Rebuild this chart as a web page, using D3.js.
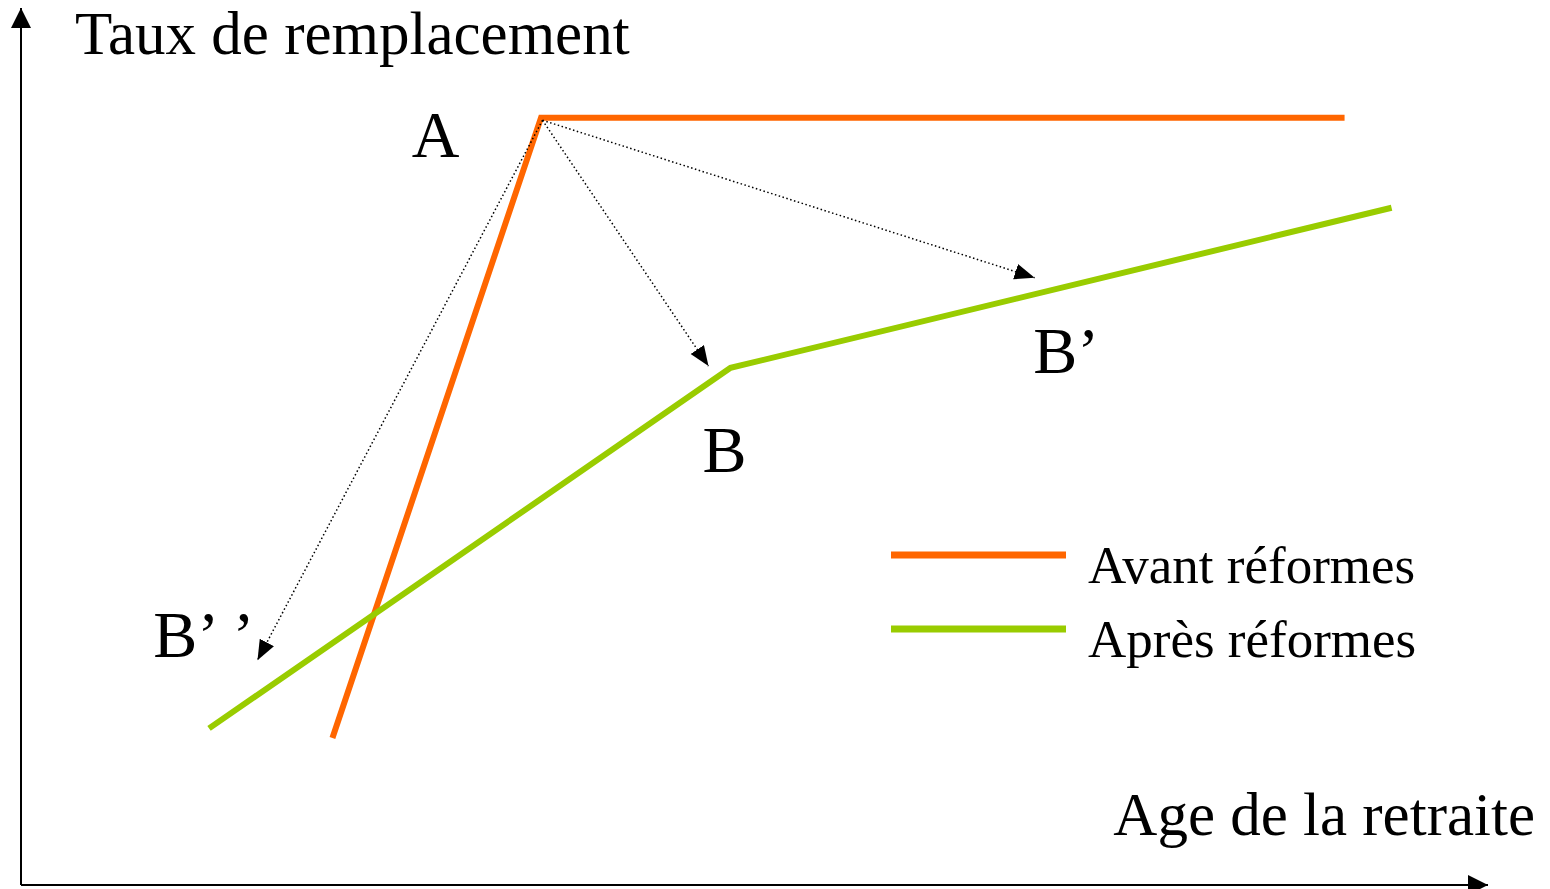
<!DOCTYPE html>
<html>
<head>
<meta charset="utf-8">
<script src="https://cdn.jsdelivr.net/npm/d3@7"></script>
<style>
  body { margin: 0; background: #fff; }
  text { font-family: "Liberation Serif", "Times New Roman", serif; fill: #000; }
</style>
</head>
<body>
<div id="chart"></div>
<script>
// schematic values (abstract units 0..100 on both axes)
var avantX = [21.2, 35.4, 90.1];
var avantY = [16.8, 87.7, 87.7];
var apresX = [12.8, 48.3, 93.3];
var apresY = [17.9, 59.1, 77.4];

var arrowFrom = [35.5, 87.4];
var arrowToX = [46.8, 69.0, 16.1];
var arrowToY = [59.3, 69.4, 25.7];

var pointNames = ["A", "B", "B\u2019", "B\u2019\u2009\u2019"];
var pointX = [26.6, 46.4, 68.9, 9.0];
var pointY = [83.2, 47.2, 58.5, 26.1];

var seriesNames = ["Avant réformes", "Après réformes"];
var seriesColors = ["#ff6600", "#99cc00"];

var width = 1550, height = 889;
var svg = d3.select("#chart").append("svg")
    .attr("width", width)
    .attr("height", height);

var x = d3.scaleLinear().domain([0, 100]).range([21, 1490]);
var y = d3.scaleLinear().domain([0, 100]).range([885, 10]);

var defs = svg.append("defs");
defs.append("marker")
    .attr("id", "head")
    .attr("markerUnits", "userSpaceOnUse")
    .attr("markerWidth", 22).attr("markerHeight", 18)
    .attr("refX", 20).attr("refY", 8)
    .attr("orient", "auto")
  .append("path")
    .attr("d", "M0,0 L20,8 L0,16 Z")
    .attr("fill", "#000");
defs.append("marker")
    .attr("id", "axisHead")
    .attr("markerUnits", "userSpaceOnUse")
    .attr("markerWidth", 22).attr("markerHeight", 22)
    .attr("refX", 20).attr("refY", 10)
    .attr("orient", "auto")
  .append("path")
    .attr("d", "M0,0 L20,10 L0,20 Z")
    .attr("fill", "#000");

// axes
svg.append("line")
    .attr("x1", x(0)).attr("y1", y(0))
    .attr("x2", x(0)).attr("y2", 8)
    .attr("stroke", "#000").attr("stroke-width", 2)
    .attr("marker-end", "url(#axisHead)");
svg.append("line")
    .attr("x1", x(0)).attr("y1", y(0))
    .attr("x2", 1488).attr("y2", y(0))
    .attr("stroke", "#000").attr("stroke-width", 2)
    .attr("marker-end", "url(#axisHead)");

svg.append("text")
    .attr("x", 75).attr("y", 54)
    .attr("font-size", 61)
    .text("Taux de remplacement");
svg.append("text")
    .attr("x", 1535).attr("y", 835)
    .attr("text-anchor", "end")
    .attr("font-size", 61)
    .text("Age de la retraite");

// curves
var line = d3.line()
    .x(function(d){ return x(d[0]); })
    .y(function(d){ return y(d[1]); });

var series = [d3.zip(avantX, avantY), d3.zip(apresX, apresY)];
svg.selectAll("path.curve")
    .data(series)
    .enter().append("path")
    .attr("class", "curve")
    .attr("d", line)
    .attr("fill", "none")
    .attr("stroke", function(d, i){ return seriesColors[i]; })
    .attr("stroke-width", 6);

// dotted arrows from A
svg.selectAll("line.move")
    .data(d3.zip(arrowToX, arrowToY))
    .enter().append("line")
    .attr("class", "move")
    .attr("x1", x(arrowFrom[0])).attr("y1", y(arrowFrom[1]))
    .attr("x2", function(d){ return x(d[0]); })
    .attr("y2", function(d){ return y(d[1]); })
    .attr("stroke", "#000")
    .attr("stroke-width", 1.5)
    .attr("stroke-dasharray", "1.5,2.5")
    .attr("marker-end", "url(#head)");

// point labels
svg.selectAll("text.pt")
    .data(pointNames)
    .enter().append("text")
    .attr("class", "pt")
    .attr("x", function(d, i){ return x(pointX[i]); })
    .attr("y", function(d, i){ return y(pointY[i]); })
    .attr("font-size", 66)
    .text(function(d){ return d; });

// legend
var legend = svg.append("g").attr("transform", "translate(890,555)");
var item = legend.selectAll("g")
    .data(seriesNames)
    .enter().append("g")
    .attr("transform", function(d, i){ return "translate(0," + (i * 74) + ")"; });
item.append("line")
    .attr("x1", 1).attr("x2", 176)
    .attr("stroke", function(d, i){ return seriesColors[i]; })
    .attr("stroke-width", 7);
item.append("text")
    .attr("x", 198).attr("y", 28)
    .attr("font-size", 53)
    .text(function(d){ return d; });
</script>
</body>
</html>
